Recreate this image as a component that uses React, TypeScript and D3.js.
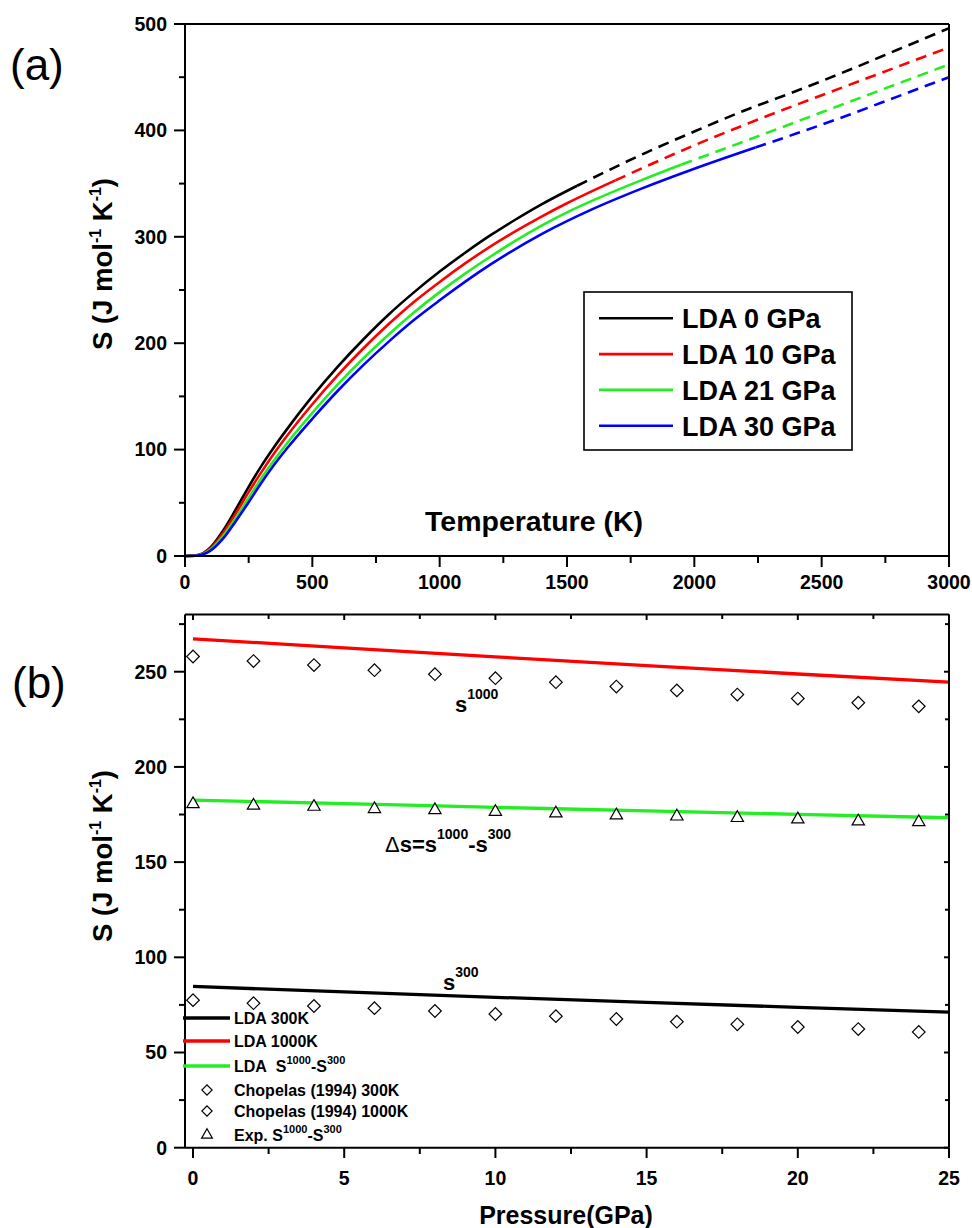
import React from "react";
import * as d3 from "d3";

const FONT = "'Liberation Sans', Arial, Helvetica, sans-serif";

// ---------- Panel (a): S(T) from LDA at four pressures ----------
// Temperatures (K) and entropies (J mol^-1 K^-1); beyond `stableTo` the curve is drawn dashed.
const temps0GPa = [0, 50, 100, 150, 200, 250, 300, 350, 400, 500, 600, 700, 800, 900, 1000, 1100, 1200, 1300, 1400, 1540, 1800, 2000, 2200, 2400, 2600, 2800, 3000];
const entropy0GPa = [0, 0.8, 8, 24, 44, 65, 84.7, 102.5, 119, 150, 178, 203.5, 227, 248, 267.3, 285, 301.5, 316.5, 330.5, 348, 378, 399, 419, 437, 456, 476, 496];
const stable0GPa = 1540;

const temps10GPa = [0, 50, 100, 150, 200, 250, 300, 350, 400, 500, 600, 700, 800, 900, 1000, 1100, 1200, 1300, 1400, 1500, 1690, 1800, 2000, 2200, 2400, 2600, 2800, 3000];
const entropy10GPa = [0, 0.6, 7, 21.7, 40.2, 60, 78.8, 96.6, 112.8, 142.6, 170, 195, 218, 239, 257.6, 275, 291, 305.5, 319, 331.5, 353, 365, 386, 405.5, 424, 442, 460, 478];
const stable10GPa = 1690;

const temps21GPa = [0, 50, 100, 150, 200, 250, 300, 350, 400, 500, 600, 700, 800, 900, 1000, 1100, 1200, 1300, 1400, 1500, 1600, 1800, 1950, 2200, 2400, 2600, 2800, 3000];
const entropy21GPa = [0, 0.5, 6, 19, 36, 54.5, 73.2, 90, 105.8, 134.5, 161.2, 185.7, 208.2, 229.1, 248, 265.4, 281.5, 296.6, 310.5, 323, 334, 354, 368, 390, 408, 426, 444, 462];
const stable21GPa = 1950;

const temps30GPa = [0, 50, 100, 150, 200, 250, 300, 350, 400, 500, 600, 700, 800, 900, 1000, 1200, 1400, 1600, 1800, 2000, 2240, 2400, 2600, 2800, 3000];
const entropy30GPa = [0, 0.4, 5, 16.5, 33, 50.5, 68.8, 85.7, 101, 129, 155.3, 179.4, 201.5, 222, 240.3, 274, 302.5, 326, 346, 364, 384, 397, 414, 432, 450];
const stable30GPa = 2240;

const seriesLabelsA = ["LDA 0 GPa", "LDA 10 GPa", "LDA 21 GPa", "LDA 30 GPa"];
const seriesColorsA = ["#000000", "#ff0000", "#22ee22", "#0000ff"];

const tempTicks = [0, 500, 1000, 1500, 2000, 2500, 3000];
const tempMinorTicks = [250, 750, 1250, 1750, 2250, 2750];
const entropyTicksA = [0, 100, 200, 300, 400, 500];
const entropyMinorTicksA = [50, 150, 250, 350, 450];

// ---------- Panel (b): S vs pressure ----------
const pressureLDA = [0, 5, 10, 15, 20, 25];
const lda300K = [84.7, 81.8, 79.0, 76.3, 73.7, 71.2];
const lda1000K = [267.3, 262.5, 257.8, 253.2, 248.8, 244.5];
const ldaDelta = [182.6, 180.7, 178.8, 176.9, 175.1, 173.3];

const pressureExp = [0, 2, 4, 6, 8, 10, 12, 14, 16, 18, 20, 22, 24];
const chopelas300K = [77.5, 75.9, 74.4, 73.3, 71.8, 70.2, 69.1, 67.6, 66.2, 64.8, 63.4, 62.3, 60.8];
const chopelas1000K = [258, 255.6, 253.5, 250.8, 248.7, 246.6, 244.5, 242.2, 240.2, 238.0, 235.9, 233.7, 231.8];
const expDelta = [180.5, 179.7, 179.1, 177.9, 177.3, 176.4, 175.6, 174.6, 174.0, 173.2, 172.5, 171.4, 171.0];

const pressureTicks = [0, 5, 10, 15, 20, 25];
const pressureMinorTicks = [2.5, 7.5, 12.5, 17.5, 22.5];
const entropyTicksB = [0, 50, 100, 150, 200, 250];
const entropyMinorTicksB = [25, 75, 125, 175, 225, 275];

type Pt = [number, number];

function zipPts(xs: number[], ys: number[]): Pt[] {
  return xs.map((x, i) => [x, ys[i]] as Pt);
}

function YTitle({ x, y }: { x: number; y: number }) {
  return (
    <text
      transform={`translate(${x},${y}) rotate(-90)`}
      textAnchor="middle"
      fontFamily={FONT}
      fontWeight="bold"
      fontSize={27.5}
    >
      S (J mol
      <tspan dy={-11} fontSize={16}>-1</tspan>
      <tspan dy={11}> K</tspan>
      <tspan dy={-11} fontSize={16}>-1</tspan>
      <tspan dy={11}>)</tspan>
    </text>
  );
}

export default function App() {
  // scales
  const xA = d3.scaleLinear().domain([0, 3000]).range([185, 949]);
  const yA = d3.scaleLinear().domain([0, 500]).range([556, 24]);
  const xB = d3.scaleLinear().domain([-0.265, 25]).range([185, 949]);
  const yB = d3.scaleLinear().domain([0, 280]).range([1147.7, 614.6]);

  const lineA = d3
    .line<Pt>()
    .x((d) => xA(d[0]))
    .y((d) => yA(d[1]))
    .curve(d3.curveMonotoneX);
  const lineB = d3
    .line<Pt>()
    .x((d) => xB(d[0]))
    .y((d) => yB(d[1]))
    .curve(d3.curveMonotoneX);

  const seriesA = [
    { t: temps0GPa, s: entropy0GPa, stableTo: stable0GPa },
    { t: temps10GPa, s: entropy10GPa, stableTo: stable10GPa },
    { t: temps21GPa, s: entropy21GPa, stableTo: stable21GPa },
    { t: temps30GPa, s: entropy30GPa, stableTo: stable30GPa },
  ].map((d, i) => {
    const pts = zipPts(d.t, d.s);
    return {
      label: seriesLabelsA[i],
      color: seriesColorsA[i],
      solid: pts.filter((p) => p[0] <= d.stableTo),
      dashed: pts.filter((p) => p[0] >= d.stableTo),
    };
  });

  const diamond = d3.symbol().type(d3.symbolSquare).size(80)() as string;
  const triangle = d3.symbol().type(d3.symbolTriangle).size(66)() as string;
  const diamondSmall = d3.symbol().type(d3.symbolSquare).size(52)() as string;
  const triangleSmall = d3.symbol().type(d3.symbolTriangle).size(50)() as string;

  const ax = { stroke: "#000", strokeWidth: 2, fill: "none" };
  const tickFont = { fontFamily: FONT, fontWeight: "bold" as const, fontSize: 19.5 };

  // legend rows for panel (b)
  const legB = [
    { kind: "line", color: "#000000", y: 1018 },
    { kind: "line", color: "#ff0000", y: 1041 },
    { kind: "line", color: "#22ee22", y: 1066 },
    { kind: "diamond", y: 1090 },
    { kind: "diamond", y: 1111 },
    { kind: "triangle", y: 1135 },
  ];

  return (
    <svg
      width={972}
      height={1228}
      viewBox="0 0 972 1228"
      style={{ position: "absolute", left: 0, top: 0, background: "#fff" }}
    >
      <rect x={0} y={0} width={972} height={1228} fill="#fff" />

      {/* ================= Panel (a) ================= */}
      <text x={10} y={80} fontFamily={FONT} fontSize={44}>
        (a)
      </text>

      {/* curves */}
      {seriesA.map((s) => (
        <g key={s.label}>
          <path d={lineA(s.solid) || ""} fill="none" stroke={s.color} strokeWidth={2.6} />
          <path
            d={lineA(s.dashed) || ""}
            fill="none"
            stroke={s.color}
            strokeWidth={2.6}
            strokeDasharray="11,7"
          />
        </g>
      ))}

      {/* frame */}
      <line x1={185} y1={24} x2={949} y2={24} {...ax} />
      <line x1={949} y1={24} x2={949} y2={556} {...ax} />
      <line x1={185} y1={24} x2={185} y2={556} {...ax} />
      <line x1={185} y1={556} x2={949} y2={556} {...ax} />

      {/* y ticks (a) */}
      {entropyTicksA.map((v) => (
        <g key={`ya${v}`}>
          <line x1={174} x2={185} y1={yA(v)} y2={yA(v)} {...ax} />
          <text x={167} y={yA(v)} dy="0.35em" textAnchor="end" {...tickFont}>
            {v}
          </text>
        </g>
      ))}
      {entropyMinorTicksA.map((v) => (
        <line key={`yam${v}`} x1={179} x2={185} y1={yA(v)} y2={yA(v)} {...ax} />
      ))}

      {/* x ticks (a) */}
      {tempTicks.map((v) => (
        <g key={`xa${v}`}>
          <line x1={xA(v)} x2={xA(v)} y1={556} y2={567} {...ax} />
          <text x={xA(v)} y={589} textAnchor="middle" {...tickFont}>
            {v}
          </text>
        </g>
      ))}
      {tempMinorTicks.map((v) => (
        <line key={`xam${v}`} x1={xA(v)} x2={xA(v)} y1={556} y2={563} {...ax} />
      ))}

      <text
        x={534}
        y={531}
        textAnchor="middle"
        fontFamily={FONT}
        fontWeight="bold"
        fontSize={28.5}
      >
        Temperature (K)
      </text>
      <YTitle x={112} y={264} />

      {/* legend (a) */}
      <rect x={584} y={292} width={268} height={158} fill="#fff" stroke="#000" strokeWidth={1.6} />
      {seriesA.map((s, i) => (
        <g key={`lega${i}`}>
          <line
            x1={599}
            x2={673}
            y1={318.3 + i * 35.8}
            y2={318.3 + i * 35.8}
            stroke={s.color}
            strokeWidth={2.6}
          />
          <text
            x={682}
            y={318.3 + i * 35.8 + 9.8}
            fontFamily={FONT}
            fontWeight="bold"
            fontSize={27}
          >
            {s.label}
          </text>
        </g>
      ))}

      {/* ================= Panel (b) ================= */}
      <text x={12} y={698} fontFamily={FONT} fontSize={44}>
        (b)
      </text>

      {/* LDA lines */}
      <path
        d={lineB(zipPts(pressureLDA, lda1000K)) || ""}
        fill="none"
        stroke="#ff0000"
        strokeWidth={3.3}
      />
      <path
        d={lineB(zipPts(pressureLDA, ldaDelta)) || ""}
        fill="none"
        stroke="#22ee22"
        strokeWidth={3.3}
      />
      <path
        d={lineB(zipPts(pressureLDA, lda300K)) || ""}
        fill="none"
        stroke="#000000"
        strokeWidth={3.3}
      />

      {/* experimental points */}
      {pressureExp.map((p, i) => (
        <g key={`exp${p}`}>
          <path
            d={diamond}
            transform={`translate(${xB(p)},${yB(chopelas1000K[i])}) rotate(45)`}
            fill="#fff"
            stroke="#000"
            strokeWidth={1.2}
          />
          <path
            d={diamond}
            transform={`translate(${xB(p)},${yB(chopelas300K[i])}) rotate(45)`}
            fill="#fff"
            stroke="#000"
            strokeWidth={1.2}
          />
          <path
            d={triangle}
            transform={`translate(${xB(p)},${yB(expDelta[i])})`}
            fill="#fff"
            stroke="#000"
            strokeWidth={1.2}
          />
        </g>
      ))}

      {/* frame (b) */}
      <line x1={185} y1={614.6} x2={949} y2={614.6} {...ax} />
      <line x1={949} y1={614.6} x2={949} y2={1147.7} {...ax} />
      <line x1={185} y1={614.6} x2={185} y2={1147.7} {...ax} />
      <line x1={185} y1={1147.7} x2={949} y2={1147.7} {...ax} />

      {/* y ticks (b) */}
      {entropyTicksB.map((v) => (
        <g key={`yb${v}`}>
          <line x1={174} x2={185} y1={yB(v)} y2={yB(v)} {...ax} />
          <line x1={944} x2={949} y1={yB(v)} y2={yB(v)} {...ax} />
          <text x={167} y={yB(v)} dy="0.35em" textAnchor="end" {...tickFont}>
            {v}
          </text>
        </g>
      ))}
      {entropyMinorTicksB.map((v) => (
        <g key={`ybm${v}`}>
          <line x1={179} x2={185} y1={yB(v)} y2={yB(v)} {...ax} />
          <line x1={945} x2={949} y1={yB(v)} y2={yB(v)} {...ax} />
        </g>
      ))}

      {/* x ticks (b) */}
      {pressureTicks.map((v) => (
        <g key={`xb${v}`}>
          <line x1={xB(v)} x2={xB(v)} y1={1147.7} y2={1158} {...ax} />
          <line x1={xB(v)} x2={xB(v)} y1={614.6} y2={620} {...ax} />
          <text x={xB(v)} y={1185} textAnchor="middle" {...tickFont}>
            {v}
          </text>
        </g>
      ))}
      {pressureMinorTicks.map((v) => (
        <g key={`xbm${v}`}>
          <line x1={xB(v)} x2={xB(v)} y1={1147.7} y2={1154} {...ax} />
          <line x1={xB(v)} x2={xB(v)} y1={614.6} y2={619} {...ax} />
        </g>
      ))}

      <text
        x={566}
        y={1224}
        textAnchor="middle"
        fontFamily={FONT}
        fontWeight="bold"
        fontSize={25}
      >
        Pressure(GPa)
      </text>
      <YTitle x={112} y={856} />

      {/* in-plot annotations */}
      <text x={455} y={712} fontFamily={FONT} fontWeight="bold" fontSize={22}>
        s<tspan dy={-13} fontSize={14}>1000</tspan>
      </text>
      <text x={385} y={852} fontFamily={FONT} fontWeight="bold" fontSize={22}>
        <tspan fontWeight="normal">Δ</tspan>s=s
        <tspan dy={-13} fontSize={14}>1000</tspan>
        <tspan dy={13}>-s</tspan>
        <tspan dy={-13} fontSize={14}>300</tspan>
      </text>
      <text x={443} y={990} fontFamily={FONT} fontWeight="bold" fontSize={22}>
        s<tspan dy={-13} fontSize={14}>300</tspan>
      </text>

      {/* legend (b) */}
      {legB.map((r, i) => (
        <g key={`legb${i}`}>
          {r.kind === "line" && (
            <line x1={183} x2={230} y1={r.y} y2={r.y} stroke={r.color} strokeWidth={3.3} />
          )}
          {r.kind === "diamond" && (
            <path
              d={diamondSmall}
              transform={`translate(207,${r.y}) rotate(45)`}
              fill="#fff"
              stroke="#000"
              strokeWidth={1.2}
            />
          )}
          {r.kind === "triangle" && (
            <path
              d={triangleSmall}
              transform={`translate(207,${r.y})`}
              fill="#fff"
              stroke="#000"
              strokeWidth={1.2}
            />
          )}
        </g>
      ))}
      <g fontFamily={FONT} fontWeight="bold" fontSize={16}>
        <text x={234} y={1024}>LDA 300K</text>
        <text x={234} y={1047}>LDA 1000K</text>
        <text x={234} y={1072} xmlSpace="preserve">
          {"LDA\u00a0\u00a0S"}
          <tspan dy={-8} fontSize={11}>1000</tspan>
          <tspan dy={8}>-S</tspan>
          <tspan dy={-8} fontSize={11}>300</tspan>
        </text>
        <text x={234} y={1096}>Chopelas (1994) 300K</text>
        <text x={234} y={1117}>Chopelas (1994) 1000K</text>
        <text x={234} y={1141}>
          Exp. S
          <tspan dy={-8} fontSize={11}>1000</tspan>
          <tspan dy={8}>-S</tspan>
          <tspan dy={-8} fontSize={11}>300</tspan>
        </text>
      </g>
    </svg>
  );
}
